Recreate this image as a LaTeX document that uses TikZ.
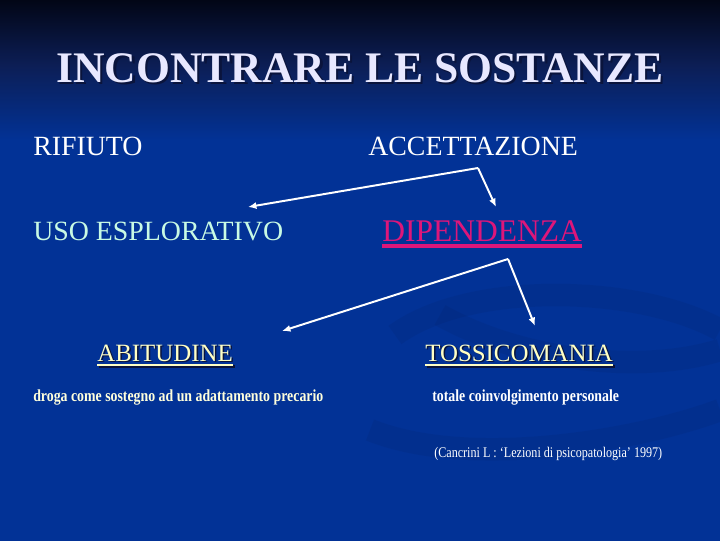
\documentclass[tikz,border=0pt]{standalone}
\usepackage{fontspec}
\setmainfont{Liberation Serif}
\newfontfamily\narrowserif[FakeStretch=0.82]{Liberation Serif}
\usetikzlibrary{calc,positioning,arrows.meta}

\definecolor{slideblue}{RGB}{2,50,150}
\definecolor{slidemid}{RGB}{12,30,85}
\definecolor{slidenavy}{RGB}{2,6,22}
\definecolor{titlecol}{RGB}{232,232,255}
\definecolor{mint}{RGB}{200,250,228}
\definecolor{dipcol}{RGB}{222,22,122}
\definecolor{paleyel}{RGB}{255,255,196}
\definecolor{shadowcol}{RGB}{10,20,60}

% the path fills the 25bp--75bp band of the shading
\pgfdeclareverticalshading{slidebg}{100bp}{color(0bp)=(slideblue); color(62bp)=(slideblue); color(69bp)=(slidemid); color(75bp)=(slidenavy); color(100bp)=(slidenavy)}

\begin{document}
\begin{tikzpicture}[x=0.025cm, y=-0.025cm,
  every node/.style={inner sep=0pt, anchor=base west},
  txt/.style={font=\fontsize{19.8}{22}\selectfont, white},
  head/.style={font=\fontsize{17.7}{20}\selectfont, paleyel},
  note/.style={font=\narrowserif\bfseries\fontsize{12}{14}\selectfont},
  arr/.style={-{Latex[length=6pt,width=5pt]}, white, line width=1.4pt}]

  % background
  \shade[shading=slidebg] (0,0) rectangle (720,540);
  \useasboundingbox (0,0) rectangle (720,540);
  \begin{scope}[opacity=0.08, line width=16pt, shadowcol]
    \draw (395,335) .. controls (470,280) and (640,285) .. (720,330);
    \draw (440,315) .. controls (520,360) and (640,375) .. (720,350);
    \draw (370,430) .. controls (470,470) and (640,440) .. (720,410);
  \end{scope}

  % title
  \node[font=\bfseries\fontsize{31}{34}\selectfont, shadowcol, anchor=base] (titlesh) at (362.5,84.5) {INCONTRARE LE SOSTANZE};
  \node[font=\bfseries\fontsize{31}{34}\selectfont, titlecol, anchor=base] (title) at (360,82) {INCONTRARE LE SOSTANZE};

  \node[txt] (rif) at (33,155) {RIFIUTO};
  \node[txt] (acc) at (368,155) {ACCETTAZIONE};
  \node[txt, mint] (uso) at (33,240) {USO ESPLORATIVO};
  \node[font=\fontsize{22.4}{25}\selectfont, dipcol] (dip) at (382,241) {DIPENDENZA};
  \draw[dipcol, line width=2.4pt] ([yshift=-3.5pt]dip.base west) -- ([yshift=-3.5pt]dip.base east);

  % first fork
  \coordinate (k1) at (478,168);
  \coordinate (k1l) at (248,207);
  \coordinate (k1r) at (496,207);
  \draw[arr] (k1) -- (k1l);
  \draw[arr] (k1) -- (k1r);

  % second fork
  \coordinate (k2) at (508,259);
  \coordinate (k2l) at (282,331);
  \coordinate (k2r) at (535,326);
  \draw[arr] (k2) -- (k2l);
  \draw[arr] (k2) -- (k2r);

  \node[head, shadowcol] (abish) at (98.5,362.5) {ABITUDINE\ };
  \draw[shadowcol, line width=1.8pt] ([yshift=-3pt]abish.base west) -- ([yshift=-3pt]abish.base east);
  \node[head] (abi) at (97,361) {ABITUDINE\ };
  \draw[paleyel, line width=1.8pt] ([yshift=-3pt]abi.base west) -- ([yshift=-3pt]abi.base east);

  \node[head, shadowcol] (tossh) at (426.5,362.5) {TOSSICOMANIA};
  \draw[shadowcol, line width=1.8pt] ([yshift=-3pt]tossh.base west) -- ([yshift=-3pt]tossh.base east);
  \node[head] (toss) at (425,361) {TOSSICOMANIA};
  \draw[paleyel, line width=1.8pt] ([yshift=-3pt]toss.base west) -- ([yshift=-3pt]toss.base east);

  \node[note, paleyel!60!white] (droga) at (33,401) {droga come sostegno ad un adattamento precario};
  \node[note, white] (totale) at (432,401) {totale coinvolgimento personale};
  \node[font=\narrowserif\fontsize{10.5}{12}\selectfont, white] (cit) at (434,457) {(Cancrini L : ‘Lezioni di psicopatologia’ 1997)};
\end{tikzpicture}
\end{document}
